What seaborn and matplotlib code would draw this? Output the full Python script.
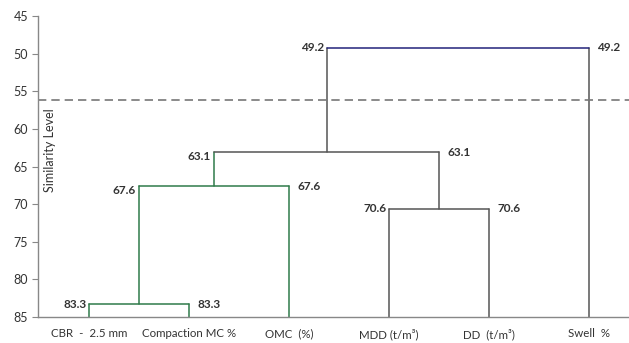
import matplotlib
matplotlib.use("Agg")
import matplotlib.pyplot as plt
import seaborn as sns
import pandas as pd
import numpy as np

# ---- data ----
leaves = ["CBR  -  2.5 mm", "Compaction MC %", "OMC  (%)", "MDD (t/m\u00b3)", "DD  (t/m\u00b3)", "Swell  %"]
# merges: (child_a, child_b, similarity); ids >= 6 refer to earlier merges
merge_a = [0, 6, 3, 7, 9]
merge_b = [1, 2, 4, 8, 5]
merge_sim = [83.3, 67.6, 70.6, 63.1, 49.2]
cut_level = 56.1
yticks = [45, 50, 55, 60, 65, 70, 75, 80, 85]

# ---- styles ----
GREEN = "#2f7a4a"
GRAY = "#555555"
NAVY = "#23237a"
horiz_color = [GREEN, GREEN, GRAY, GRAY, NAVY]
vert_left_color = [GREEN, GREEN, GRAY, GREEN, GRAY]
vert_right_color = [GREEN, GREEN, GRAY, GRAY, GRAY]
left_dy = [0, -3, 0, -3, 0]   # small vertical nudges (points) for left labels

sns.set_theme(style="white")
plt.rcParams["font.family"] = ["Lato", "DejaVu Sans"]

n = len(leaves)
xpos = {i: i + 1.0 for i in range(n)}
ypos = {i: 85.0 for i in range(n)}
rows = []
seg = 0
for k, (a, b, h) in enumerate(zip(merge_a, merge_b, merge_sim)):
    xa, xb = xpos[a], xpos[b]
    ya, yb = ypos[a], ypos[b]
    for (xs, ys, c) in [([xa, xa], [ya, h], vert_left_color[k]),
                        ([xa, xb], [h, h], horiz_color[k]),
                        ([xb, xb], [yb, h], vert_right_color[k])]:
        for x, y in zip(xs, ys):
            rows.append({"x": x, "y": y, "seg": seg, "color": c})
        seg += 1
    node = n + k
    xpos[node] = (xa + xb) / 2
    ypos[node] = h
df = pd.DataFrame(rows)

fig = plt.figure(figsize=(6.29, 3.43), dpi=100)
ax = fig.add_axes([38 / 629, 1 - 317 / 343, 1 - 38 / 629, (317 - 16) / 343])

for c in df["color"].unique():
    sub = df[df["color"] == c]
    sns.lineplot(data=sub, x="x", y="y", units="seg", estimator=None, sort=False,
                 color=c, linewidth=1.1, ax=ax, legend=False)

ax.axhline(cut_level, color="#777777", linestyle=(0, (5, 3)), linewidth=1.2)

for k, (a, b, h) in enumerate(zip(merge_a, merge_b, merge_sim)):
    xa, xb = xpos[a], xpos[b]
    ax.annotate(f"{h:.1f}", (xa, h), xytext=(-2, left_dy[k]), textcoords="offset points",
                ha="right", va="center", fontsize=8.5, color="#333333", fontweight="bold")
    ax.annotate(f"{h:.1f}", (xb, h), xytext=(6, 0), textcoords="offset points",
                ha="left", va="center", fontsize=8.5, color="#333333", fontweight="bold")

ax.set_xlim(0.49, 6.4)
ax.set_ylim(85, 45)
ax.set_yticks(yticks)
ax.set_yticklabels([str(t) for t in yticks], fontsize=9, color="#333333")
ax.set_xticks(np.arange(1, n + 1))
ax.set_xticklabels(leaves, fontsize=8.3, color="#333333")
ax.tick_params(axis="y", length=4, width=0.8, color="#888888", left=True, pad=3)
ax.tick_params(axis="x", length=0, pad=8)
ax.set_xlabel("")
ax.set_ylabel("Similarity Level", fontsize=9, color="#333333")
ax.yaxis.set_label_coords(0.031, 0.555)

for s in ["top", "right"]:
    ax.spines[s].set_visible(False)
for s in ["left", "bottom"]:
    ax.spines[s].set_color("#888888")
    ax.spines[s].set_linewidth(1.0)

fig.savefig("out.png", dpi=100)
